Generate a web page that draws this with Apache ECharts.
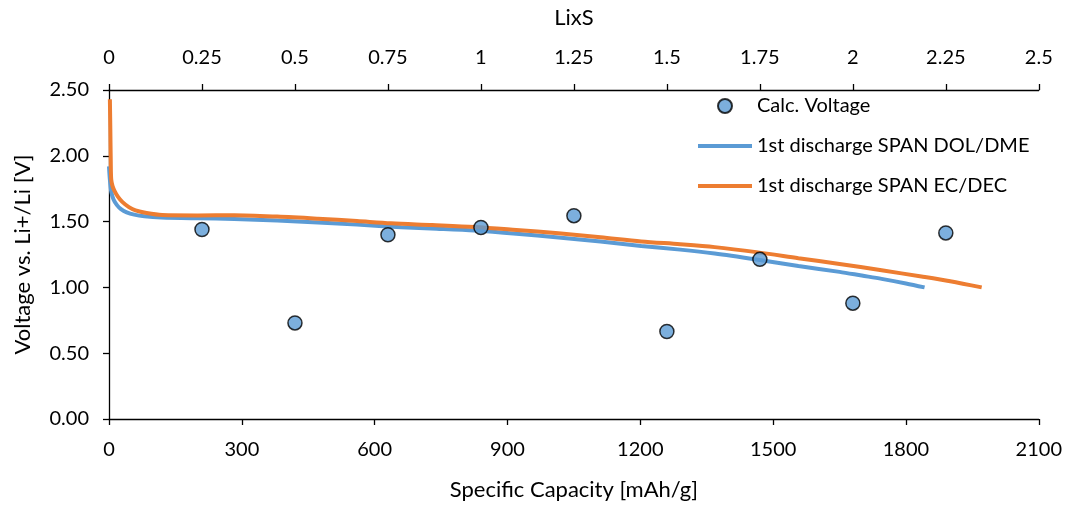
<!DOCTYPE html>
<html>
<head>
<meta charset="utf-8">
<script src="https://cdn.jsdelivr.net/npm/echarts@6/dist/echarts.min.js"></script>
<style>
  html, body { margin: 0; padding: 0; background: #fff; }
  #chart { width: 1065px; height: 506px; }
</style>
</head>
<body>
<div id="chart"></div>
<script>
// Calculated voltage vs. lithiation degree x in LixS (top axis)
const lixsValues = [0.25, 0.5, 0.75, 1.0, 1.25, 1.5, 1.75, 2.0, 2.25];
const calcVoltage = [1.44, 0.73, 1.40, 1.455, 1.545, 0.665, 1.213, 0.88, 1.414];

// First discharge curves: [specific capacity mAh/g, voltage V]
const dischargeDolDme = [
  [0, 1.92], [2, 1.82], [5, 1.73], [10, 1.67], [18, 1.625], [27, 1.595],
  [40, 1.57], [57, 1.553], [80, 1.541], [118, 1.532], [200, 1.525],
  [283, 1.52], [380, 1.508], [472, 1.494], [560, 1.477], [660, 1.457],
  [740, 1.446], [826, 1.432], [920, 1.408], [1015, 1.379], [1110, 1.348],
  [1202, 1.315], [1290, 1.287], [1368, 1.257], [1462, 1.212], [1557, 1.163],
  [1650, 1.118], [1700, 1.09], [1745, 1.065], [1800, 1.03], [1842, 1.0]
];
const dischargeEcDec = [
  [2, 2.43], [3, 2.2], [4, 1.95], [5, 1.82], [8, 1.77], [13, 1.73],
  [20, 1.69], [30, 1.65], [45, 1.61], [60, 1.585], [85, 1.565], [120, 1.55],
  [200, 1.547], [283, 1.548], [380, 1.538], [472, 1.522], [560, 1.504],
  [637, 1.487], [730, 1.474], [826, 1.459], [920, 1.436], [1015, 1.411],
  [1110, 1.381], [1202, 1.349], [1290, 1.328], [1368, 1.306], [1462, 1.268],
  [1557, 1.222], [1650, 1.178], [1745, 1.13], [1835, 1.083], [1900, 1.047],
  [1971, 1.0]
];

const capacityTicks = { min: 0, max: 2100, interval: 300 };
const lixsTicks = { min: 0, max: 2.5, interval: 0.25 };
const voltageTicks = { min: 0, max: 2.5, interval: 0.5 };

const FONT = 'Lato';
const TEXT = '#000';
const AXIS = '#000';
// flat bar used as the legend swatch for the line series
const LINE_ICON = 'path://M0,0 L54,0 L54,4 L0,4 Z';

const chart = echarts.init(document.getElementById('chart'));

const axisCommon = {
  axisLine: { show: true, onZero: false, lineStyle: { color: AXIS, width: 1.3 } },
  axisTick: { show: true, inside: false, length: 6, lineStyle: { color: AXIS, width: 1.3 } },
  splitLine: { show: false },
  axisLabel: { color: TEXT, fontFamily: FONT, fontSize: 20, margin: 21, formatter: v => String(v) },
  nameTextStyle: { color: TEXT, fontFamily: FONT, fontSize: 22 }
};

chart.setOption({
  animation: false,
  backgroundColor: '#fff',
  textStyle: { fontFamily: FONT },
  grid: { left: 109, right: 26, top: 90, bottom: 83, containLabel: false },
  legend: {
    orient: 'vertical',
    left: 693,
    top: 91,
    itemWidth: 54,
    itemHeight: 14,
    itemGap: 20,
    textStyle: { color: TEXT, fontFamily: FONT, fontSize: 20 },
    data: [
      { name: 'Calc. Voltage', icon: 'circle' },
      { name: '1st discharge SPAN DOL/DME', icon: LINE_ICON },
      { name: '1st discharge SPAN EC/DEC', icon: LINE_ICON }
    ]
  },
  xAxis: [
    Object.assign({}, axisCommon, {
      type: 'value',
      position: 'bottom',
      min: capacityTicks.min, max: capacityTicks.max, interval: capacityTicks.interval,
      name: 'Specific Capacity [mAh/g]',
      nameLocation: 'middle',
      nameGap: 60
    }),
    Object.assign({}, axisCommon, {
      type: 'value',
      position: 'top',
      min: lixsTicks.min, max: lixsTicks.max, interval: lixsTicks.interval,
      name: 'LixS',
      nameLocation: 'middle',
      nameGap: 61,
      axisLabel: Object.assign({}, axisCommon.axisLabel, { margin: 22 })
    })
  ],
  yAxis: [
    Object.assign({}, axisCommon, {
      type: 'value',
      min: voltageTicks.min, max: voltageTicks.max, interval: voltageTicks.interval,
      name: 'Voltage vs. Li+/Li [V]',
      nameLocation: 'middle',
      nameGap: 75,
      axisLabel: Object.assign({}, axisCommon.axisLabel, {
        margin: 20,
        formatter: v => v.toFixed(2)
      })
    })
  ],
  series: [
    {
      name: '1st discharge SPAN DOL/DME',
      type: 'line',
      xAxisIndex: 0,
      data: dischargeDolDme,
      showSymbol: false,
      symbol: 'none',
      smooth: 0.3,
      lineStyle: { color: '#5B9BD5', width: 4 },
      itemStyle: { color: '#5B9BD5' },
      z: 2
    },
    {
      name: '1st discharge SPAN EC/DEC',
      type: 'line',
      xAxisIndex: 0,
      data: dischargeEcDec,
      showSymbol: false,
      symbol: 'none',
      smooth: 0.3,
      lineStyle: { color: '#ED7D31', width: 4 },
      itemStyle: { color: '#ED7D31' },
      z: 3
    },
    {
      name: 'Calc. Voltage',
      type: 'scatter',
      xAxisIndex: 1,
      data: lixsValues.map((x, i) => [x, calcVoltage[i]]),
      symbol: 'circle',
      symbolSize: 14,
      itemStyle: { color: '#5B9BD5', borderColor: '#000', borderWidth: 1.5 },
      z: 4
    }
  ]
});
</script>
</body>
</html>
